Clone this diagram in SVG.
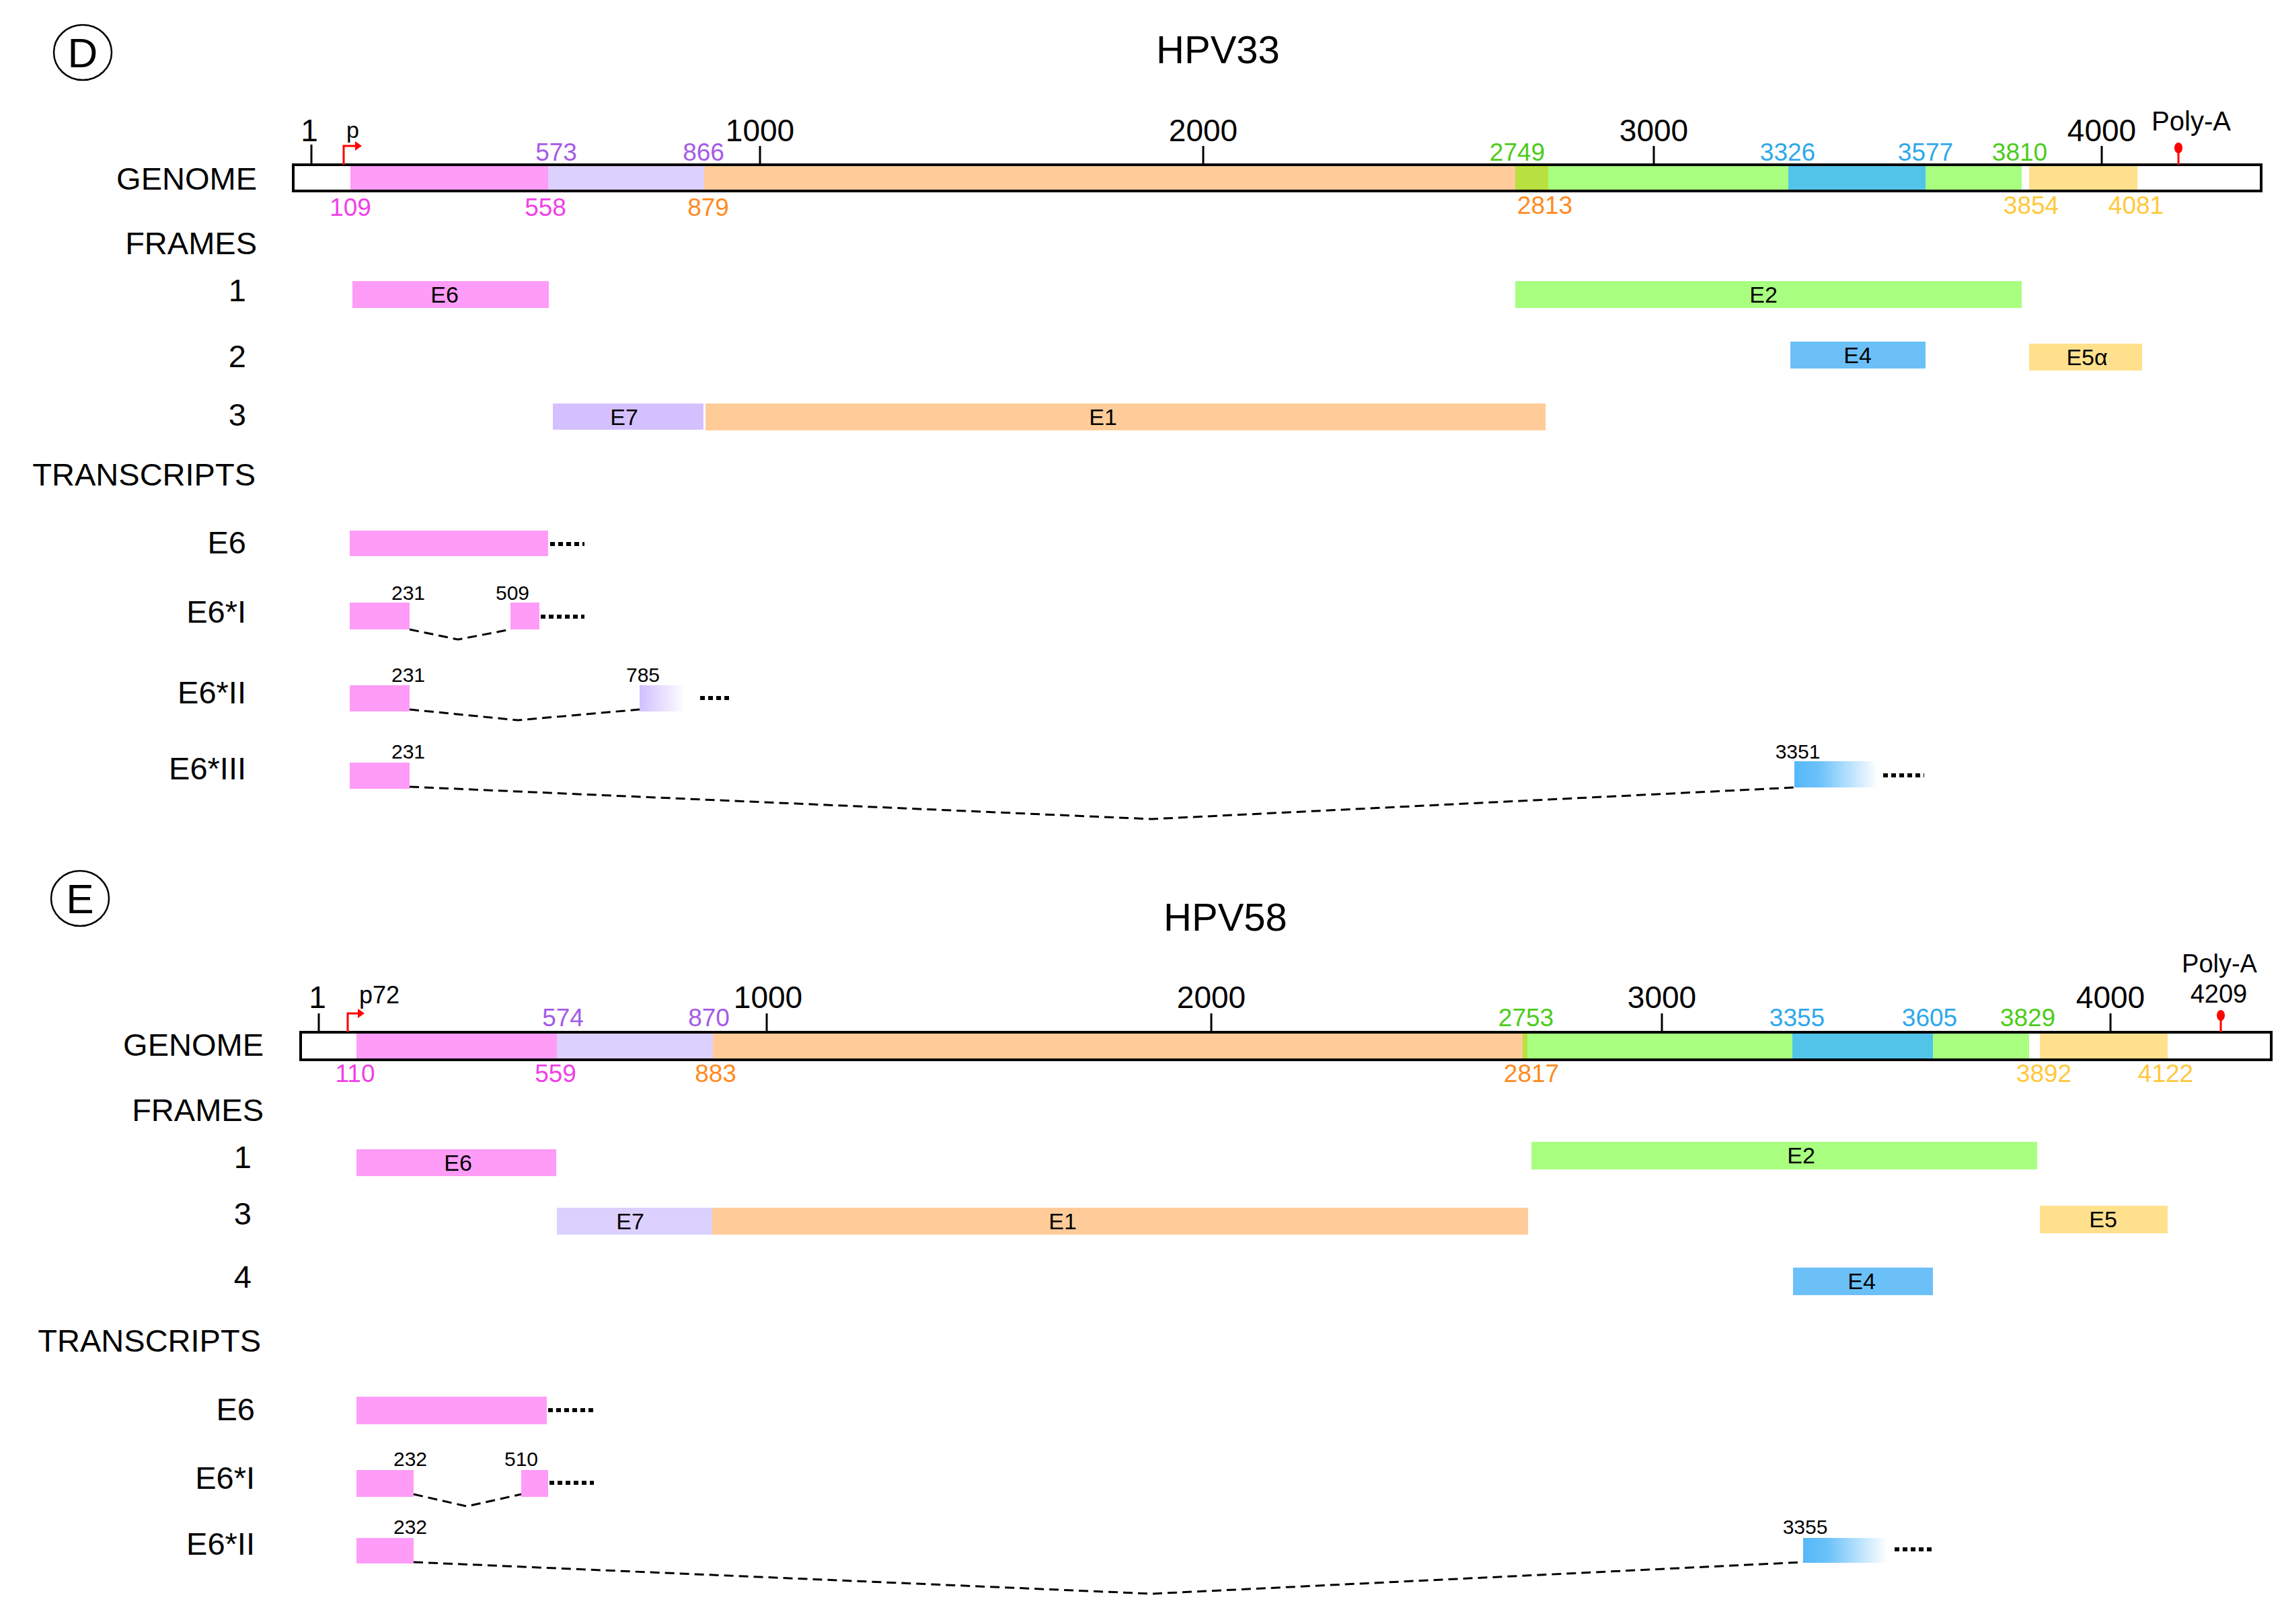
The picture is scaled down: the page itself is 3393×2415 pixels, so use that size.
<svg xmlns="http://www.w3.org/2000/svg" width="3393" height="2415" viewBox="0 0 3393 2415">
<style>
text{font-family:"Liberation Sans Narrow","Liberation Sans",Arial,sans-serif;fill:#000}
.lab{font-size:47px;text-anchor:end}
.tk{font-size:46px;text-anchor:middle}
.num{font-size:37px;text-anchor:middle}
.sm{font-size:30px;text-anchor:middle}
.fl{font-size:34px;text-anchor:middle}
.title{font-family:"Liberation Sans",Arial,sans-serif;font-size:58px;text-anchor:middle}
.bar{fill:none;stroke:#000;stroke-width:4}
.tick{stroke:#000;stroke-width:3}
.splice{fill:none;stroke:#000;stroke-width:3;stroke-dasharray:14 8}
.dots{stroke:#000;stroke-width:6;stroke-dasharray:7 5}
.pk{fill:#ff9cf7}.lv{fill:#dcd0ff}.lv2{fill:#d4c0ff}.or{fill:#ffcc99}.gr{fill:#a8ff80}.dg{fill:#b8e040}.bl{fill:#52c4ea}.bl2{fill:#6cc0f8}.ye{fill:#ffe08c}
.cm{fill:#f040e8}.cp{fill:#a55ae6}.co{fill:#ff8a1e}.cg{fill:#4ccc1a}.cb{fill:#2ea8ec}.cy{fill:#ffc83c}
</style>
<defs>
<linearGradient id="gl" x1="0" x2="1"><stop offset="0" stop-color="#d0c0ff"/><stop offset="1" stop-color="#fff"/></linearGradient>
<linearGradient id="gb" x1="0" x2="1"><stop offset="0" stop-color="#55b8f8"/><stop offset="0.3" stop-color="#6cc2fa"/><stop offset="1" stop-color="#fff"/></linearGradient>
</defs>

<!-- ===== HPV33 ===== -->
<g id="panelD">
<ellipse cx="123" cy="78" rx="43" ry="41" fill="none" stroke="#000" stroke-width="2.5"/>
<text x="123" y="100" font-size="62" text-anchor="middle" style="font-family:'Liberation Sans',Arial,sans-serif">D</text>
<text class="title" x="1811" y="94">HPV33</text>
</g>
<g id="labelsD">
<text class="lab" x="382" y="282">GENOME</text>
<text class="lab" x="382" y="378">FRAMES</text>
<text class="lab" x="366" y="448">1</text>
<text class="lab" x="366" y="546">2</text>
<text class="lab" x="366" y="633">3</text>
<text class="lab" x="380" y="722">TRANSCRIPTS</text>
<text class="lab" x="366" y="823">E6</text>
<text class="lab" x="366" y="926">E6*I</text>
<text class="lab" x="366" y="1046">E6*II</text>
<text class="lab" x="366" y="1159">E6*III</text>
</g>
<g id="genomeD">
<rect class="pk" x="521" y="245" width="294" height="39"/>
<rect class="lv" x="815" y="245" width="232" height="39"/>
<rect class="or" x="1047" y="245" width="1206" height="39"/>
<rect class="dg" x="2253" y="245" width="49" height="39"/>
<rect class="gr" x="2302" y="245" width="357" height="39"/>
<rect class="bl" x="2659" y="245" width="204" height="39"/>
<rect class="gr" x="2863" y="245" width="143" height="39"/>
<rect class="ye" x="3017" y="245" width="161" height="39"/>
<rect class="bar" x="436" y="245" width="2926" height="39"/>
<line class="tick" x1="463" y1="245" x2="463" y2="215"/>
<line class="tick" x1="1130" y1="245" x2="1130" y2="217"/>
<line class="tick" x1="1789" y1="245" x2="1789" y2="217"/>
<line class="tick" x1="2459" y1="245" x2="2459" y2="217"/>
<line class="tick" x1="3125" y1="245" x2="3125" y2="217"/>
<text class="tk" x="460" y="210">1</text>
<text class="tk" x="1130" y="210">1000</text>
<text class="tk" x="1789" y="210">2000</text>
<text class="tk" x="2459" y="210">3000</text>
<text class="tk" x="3125" y="210">4000</text>
<path d="M511 245 V217 H535" fill="none" stroke="#f00" stroke-width="3"/>
<path d="M528 210 l10 7 l-10 7z" fill="#f00"/>
<text x="515" y="205" font-size="34">p</text>
<line x1="3239" y1="245" x2="3239" y2="218" stroke="#f00" stroke-width="3"/>
<ellipse cx="3239" cy="220" rx="6" ry="8" fill="#f00"/>
<text x="3258" y="194" font-size="40" text-anchor="middle">Poly-A</text>
<text class="num cp" x="827" y="239">573</text>
<text class="num cp" x="1046" y="239">866</text>
<text class="num cg" x="2256" y="239">2749</text>
<text class="num cb" x="2658" y="239">3326</text>
<text class="num cb" x="2863" y="239">3577</text>
<text class="num cg" x="3003" y="239">3810</text>
<text class="num cm" x="521" y="321">109</text>
<text class="num cm" x="811" y="321">558</text>
<text class="num co" x="1053" y="321">879</text>
<text class="num co" x="2297" y="318" font-size="33">2813</text>
<text class="num cy" x="3020" y="318" font-size="33">3854</text>
<text class="num cy" x="3176" y="318" font-size="33">4081</text>
</g>
<g id="framesD">
<rect class="pk" x="524" y="418" width="292" height="40"/><text class="fl" x="661" y="450">E6</text>
<rect class="gr" x="2253" y="418" width="753" height="40"/><text class="fl" x="2622" y="450">E2</text>
<rect class="bl2" x="2662" y="508" width="201" height="40"/><text class="fl" x="2762" y="540">E4</text>
<rect class="ye" x="3017" y="511" width="168" height="40"/><text class="fl" x="3103" y="543">E5α</text>
<rect class="lv2" x="822" y="600" width="224" height="39"/><text class="fl" x="928" y="632">E7</text>
<rect class="or" x="1049" y="600" width="1249" height="40"/><text class="fl" x="1640" y="632">E1</text>
</g>
<g id="transcriptsD">
<rect class="pk" x="520" y="789" width="295" height="38"/>
<rect class="pk" x="520" y="896" width="89" height="40"/>
<rect class="pk" x="759" y="896" width="43" height="40"/>
<text class="sm" x="607" y="892">231</text><text class="sm" x="762" y="892">509</text>
<rect class="pk" x="520" y="1019" width="89" height="39"/>
<rect fill="url(#gl)" x="951" y="1019" width="68" height="39"/>
<text class="sm" x="607" y="1014">231</text><text class="sm" x="956" y="1014">785</text>
<rect class="pk" x="520" y="1134" width="89" height="39"/>
<rect fill="url(#gb)" x="2668" y="1132" width="124" height="39"/>
<text class="sm" x="607" y="1128">231</text><text class="sm" x="2673" y="1128">3351</text>
</g>

<!-- ===== HPV58 ===== -->
<g id="panelE">
<ellipse cx="119" cy="1336" rx="43" ry="41" fill="none" stroke="#000" stroke-width="2.5"/>
<text x="119" y="1358" font-size="62" text-anchor="middle" style="font-family:'Liberation Sans',Arial,sans-serif">E</text>
<text class="title" x="1822" y="1384">HPV58</text>
</g>
<g id="labelsE">
<text class="lab" x="392" y="1570">GENOME</text>
<text class="lab" x="392" y="1667">FRAMES</text>
<text class="lab" x="374" y="1737">1</text>
<text class="lab" x="374" y="1821">3</text>
<text class="lab" x="374" y="1915">4</text>
<text class="lab" x="388" y="2010">TRANSCRIPTS</text>
<text class="lab" x="379" y="2112">E6</text>
<text class="lab" x="379" y="2214">E6*I</text>
<text class="lab" x="379" y="2312">E6*II</text>
</g>
<g id="genomeE">
<rect class="pk" x="530" y="1535" width="298" height="41"/>
<rect class="lv" x="828" y="1535" width="232" height="41"/>
<rect class="or" x="1060" y="1535" width="1204" height="41"/>
<rect class="dg" x="2264" y="1535" width="7" height="41"/>
<rect class="gr" x="2271" y="1535" width="394" height="41"/>
<rect class="bl" x="2665" y="1535" width="209" height="41"/>
<rect class="gr" x="2874" y="1535" width="143" height="41"/>
<rect class="ye" x="3033" y="1535" width="190" height="41"/>
<rect class="bar" x="447" y="1535" width="2930" height="41"/>
<line class="tick" x1="474" y1="1535" x2="474" y2="1507"/>
<line class="tick" x1="1140" y1="1535" x2="1140" y2="1507"/>
<line class="tick" x1="1801" y1="1535" x2="1801" y2="1507"/>
<line class="tick" x1="2471" y1="1535" x2="2471" y2="1507"/>
<line class="tick" x1="3138" y1="1535" x2="3138" y2="1507"/>
<text class="tk" x="472" y="1499">1</text>
<text class="tk" x="1142" y="1499">1000</text>
<text class="tk" x="1801" y="1499">2000</text>
<text class="tk" x="2471" y="1499">3000</text>
<text class="tk" x="3138" y="1499">4000</text>
<path d="M517 1535 V1507 H539" fill="none" stroke="#f00" stroke-width="3"/>
<path d="M532 1500 l10 7 l-10 7z" fill="#f00"/>
<text x="534" y="1492" font-size="36">p72</text>
<line x1="3302" y1="1535" x2="3302" y2="1510" stroke="#f00" stroke-width="3"/>
<ellipse cx="3302" cy="1510" rx="6" ry="8" fill="#f00"/>
<text x="3300" y="1446" font-size="38" text-anchor="middle">Poly-A</text>
<text x="3299" y="1491" font-size="38" text-anchor="middle">4209</text>
<text class="num cp" x="837" y="1526">574</text>
<text class="num cp" x="1054" y="1526">870</text>
<text class="num cg" x="2269" y="1526">2753</text>
<text class="num cb" x="2672" y="1526">3355</text>
<text class="num cb" x="2869" y="1526">3605</text>
<text class="num cg" x="3015" y="1526">3829</text>
<text class="num cm" x="528" y="1609">110</text>
<text class="num cm" x="826" y="1609">559</text>
<text class="num co" x="1064" y="1609">883</text>
<text class="num co" x="2277" y="1609">2817</text>
<text class="num cy" x="3039" y="1609">3892</text>
<text class="num cy" x="3220" y="1609">4122</text>
</g>
<g id="framesE">
<rect class="pk" x="530" y="1709" width="297" height="40"/><text class="fl" x="681" y="1741">E6</text>
<rect class="gr" x="2277" y="1698" width="752" height="41"/><text class="fl" x="2678" y="1730">E2</text>
<rect class="lv" x="828" y="1796" width="231" height="40"/><text class="fl" x="937" y="1828">E7</text>
<rect class="or" x="1059" y="1796" width="1213" height="40"/><text class="fl" x="1580" y="1828">E1</text>
<rect class="ye" x="3033" y="1793" width="190" height="41"/><text class="fl" x="3127" y="1825">E5</text>
<rect class="bl2" x="2666" y="1885" width="208" height="41"/><text class="fl" x="2768" y="1917">E4</text>
</g>
<g id="transcriptsE">
<rect class="pk" x="530" y="2077" width="283" height="41"/>
<rect class="pk" x="530" y="2186" width="85" height="40"/>
<rect class="pk" x="775" y="2186" width="40" height="40"/>
<text class="sm" x="610" y="2180">232</text><text class="sm" x="775" y="2180">510</text>
<rect class="pk" x="530" y="2287" width="85" height="38"/>
<rect fill="url(#gb)" x="2681" y="2287" width="125" height="37"/>
<text class="sm" x="610" y="2281">232</text><text class="sm" x="2684" y="2281">3355</text>
</g>

<g id="connectors">
<line class="dots" x1="818" y1="809" x2="869" y2="809"/>
<polyline class="splice" stroke-dasharray="6 4" points="609,936 681,951 759,936"/>
<line class="dots" x1="804" y1="917" x2="869" y2="917"/>
<polyline class="splice" points="609,1055 770,1071 951,1055"/>
<line class="dots" x1="1041" y1="1038" x2="1089" y2="1038"/>
<polyline class="splice" points="609,1170 1712,1218 2668,1171"/>
<line class="dots" x1="2800" y1="1153" x2="2861" y2="1153"/>
<line class="dots" x1="815" y1="2097" x2="883" y2="2097"/>
<polyline class="splice" stroke-dasharray="6 4" points="615,2222 694,2240 775,2222"/>
<line class="dots" x1="817" y1="2205" x2="883" y2="2205"/>
<polyline class="splice" points="615,2323 1712,2370 2681,2323"/>
<line class="dots" x1="2817" y1="2304" x2="2876" y2="2304"/>
</g>
</svg>
